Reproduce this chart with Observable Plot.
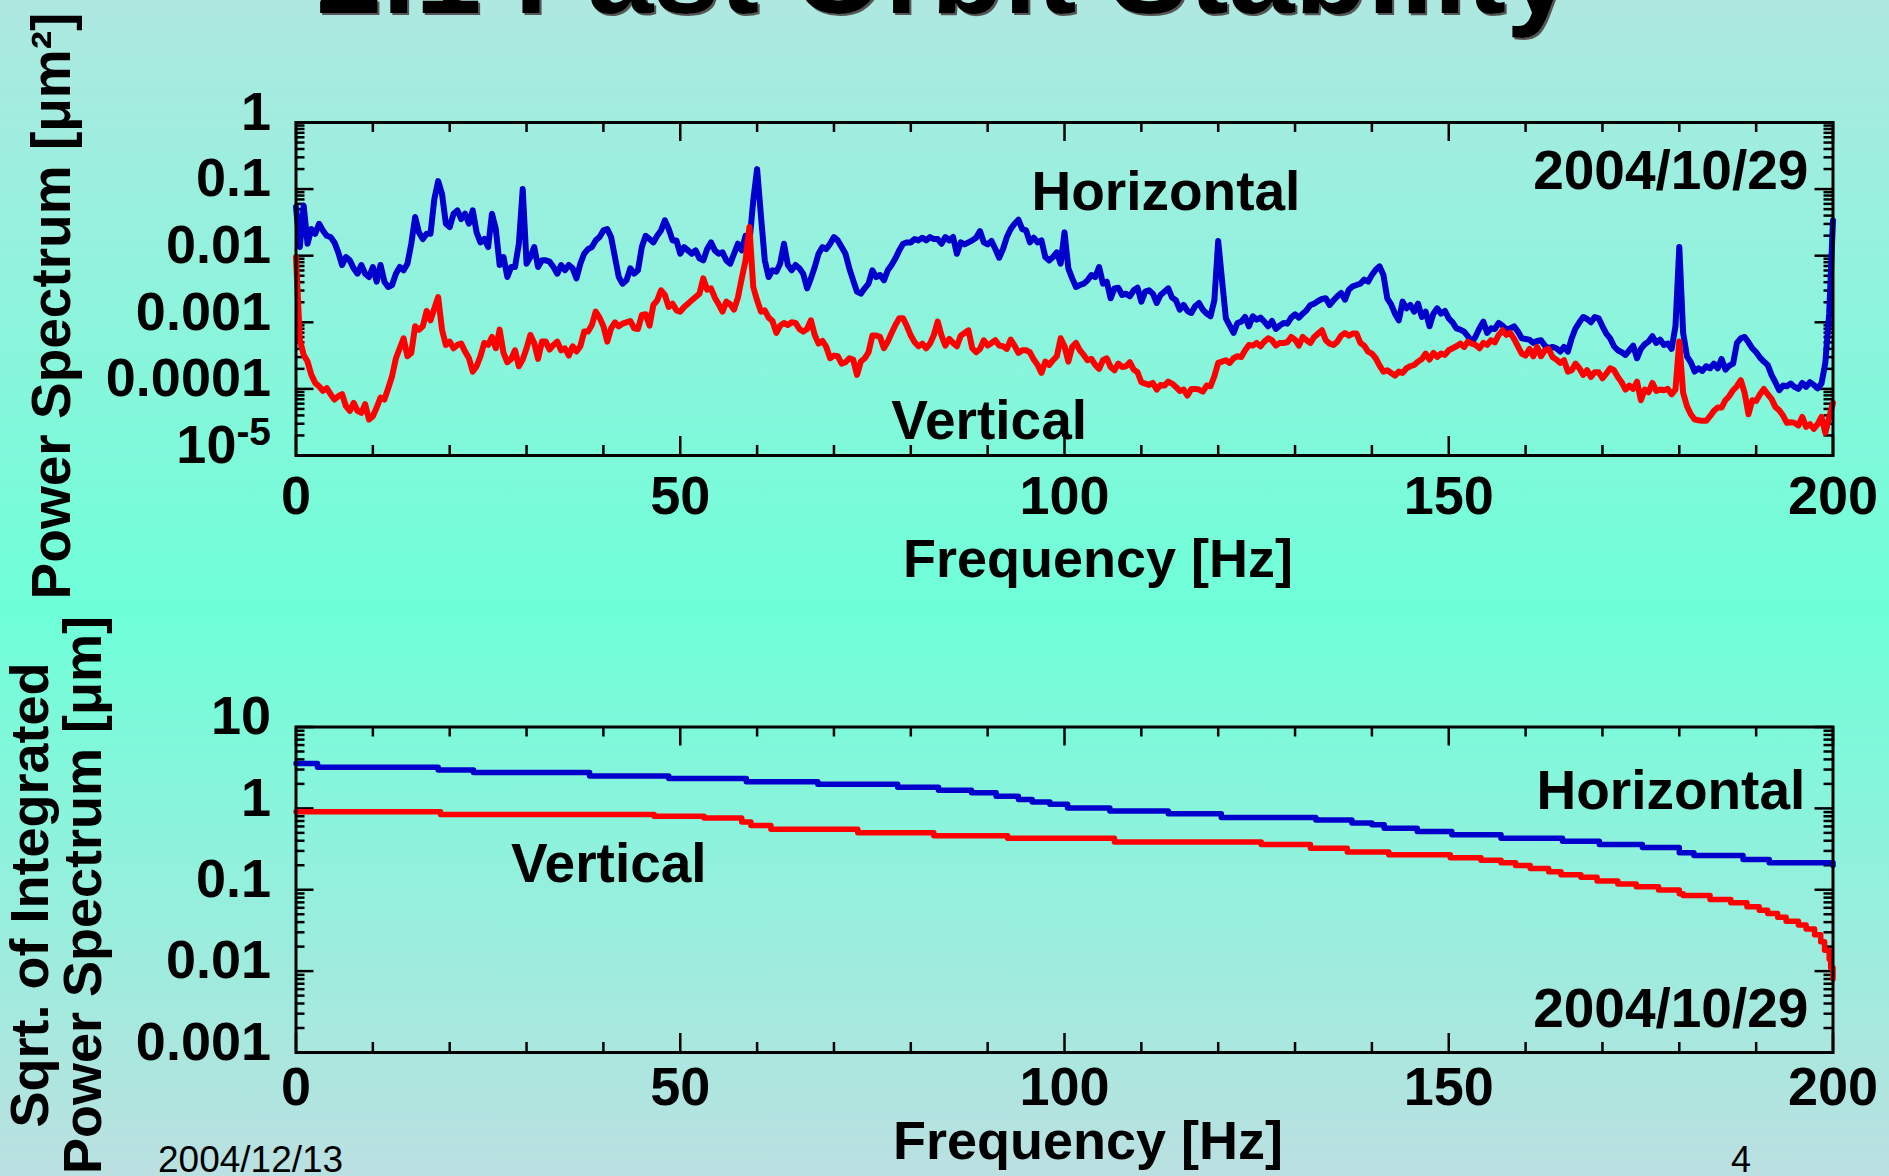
<!DOCTYPE html>
<html>
<head>
<meta charset="utf-8">
<title>Fast Orbit Stability</title>
<script src="https://cdn.jsdelivr.net/npm/d3@7"></script>
<script src="https://cdn.jsdelivr.net/npm/@observablehq/plot@0.6"></script>
<style>
  html, body { margin: 0; padding: 0; }
  body {
    width: 1889px; height: 1176px; overflow: hidden; position: relative;
    background: linear-gradient(to bottom, #aee8e1 0%, #6effd8 52%, #bbe0e1 100%);
    font-family: "Liberation Sans", Arial, Helvetica, sans-serif;
  }
  .panel { position: absolute; left: 0; }
  #overlay { position: absolute; left: 0; top: 0; }
</style>
</head>
<body>
<div id="panel1" class="panel" style="top:0px"></div>
<div id="panel2" class="panel" style="top:600px"></div>
<svg id="overlay" width="1889" height="1176" font-family="Liberation Sans, Arial, sans-serif">
  <defs>
    <filter id="shadow" x="-5%" y="-50%" width="110%" height="200%">
      <feDropShadow dx="2" dy="2" stdDeviation="0" flood-color="#555555" flood-opacity="1"/>
    </filter>
  </defs>
  <text x="316" y="13" font-size="119" font-weight="bold" fill="#000" filter="url(#shadow)">2.1 Fast Orbit Stability</text>
  <text x="158" y="1172" font-size="37" fill="#000">2004/12/13</text>
  <text x="1731" y="1172" font-size="36" fill="#000">4</text>
</svg>
<script>
// ---------------- DATA ----------------
// Power spectrum, log10 of value in µm², read every 0.5 Hz from 0 to 200 Hz (20 values per 10 Hz row)
const horizontalLog10 = [
  -1.27,-1.87,-1.25,-1.82,-1.60,-1.67,-1.52,-1.62,-1.70,-1.72,-1.80,-1.95,-2.14,-2.02,-2.07,-2.19,-2.27,-2.14,-2.27,-2.32,
  -2.17,-2.39,-2.14,-2.39,-2.47,-2.44,-2.27,-2.17,-2.22,-2.12,-1.82,-1.42,-1.65,-1.75,-1.67,-1.67,-1.15,-0.88,-1.07,-1.52,
  -1.57,-1.37,-1.32,-1.45,-1.37,-1.52,-1.32,-1.65,-1.80,-1.75,-1.87,-1.37,-1.60,-2.14,-2.02,-2.32,-2.17,-2.17,-1.82,-1.00,
  -2.12,-2.02,-1.87,-2.17,-2.07,-2.07,-2.09,-2.17,-2.27,-2.14,-2.22,-2.14,-2.19,-2.34,-2.12,-1.97,-1.90,-1.87,-1.77,-1.72,
  -1.62,-1.60,-1.72,-2.02,-2.32,-2.42,-2.37,-2.19,-2.27,-2.22,-1.87,-1.70,-1.75,-1.80,-1.70,-1.62,-1.47,-1.60,-1.77,-1.77,
  -1.97,-1.87,-1.92,-1.97,-1.92,-2.04,-2.07,-1.90,-1.80,-1.92,-1.97,-1.95,-2.07,-2.12,-1.97,-1.82,-1.92,-1.70,-1.80,-1.17,
  -0.70,-1.40,-2.07,-2.32,-2.22,-2.24,-2.12,-1.82,-2.14,-2.22,-2.14,-2.19,-2.27,-2.49,-2.34,-2.17,-1.97,-1.87,-1.90,-1.82,
  -1.72,-1.77,-1.87,-1.97,-2.19,-2.37,-2.54,-2.57,-2.49,-2.42,-2.22,-2.32,-2.29,-2.37,-2.22,-2.14,-2.04,-1.92,-1.82,-1.80,
  -1.80,-1.75,-1.77,-1.73,-1.77,-1.72,-1.75,-1.75,-1.82,-1.72,-1.77,-1.72,-1.97,-1.80,-1.83,-1.80,-1.77,-1.73,-1.63,-1.80,
  -1.83,-1.78,-1.90,-2.03,-1.90,-1.72,-1.60,-1.52,-1.46,-1.60,-1.62,-1.80,-1.73,-1.80,-1.77,-2.02,-2.07,-2.02,-1.95,-2.12,
  -1.65,-2.19,-2.34,-2.47,-2.44,-2.42,-2.37,-2.29,-2.32,-2.17,-2.42,-2.39,-2.64,-2.49,-2.48,-2.59,-2.57,-2.61,-2.52,-2.48,
  -2.69,-2.54,-2.52,-2.57,-2.71,-2.59,-2.54,-2.49,-2.63,-2.67,-2.81,-2.74,-2.83,-2.86,-2.76,-2.71,-2.81,-2.87,-2.91,-2.67,
  -1.78,-2.37,-2.94,-3.05,-3.16,-3.01,-2.99,-2.92,-3.06,-2.91,-2.96,-2.93,-2.99,-3.06,-2.98,-3.10,-3.05,-3.01,-3.02,-2.93,
  -2.88,-2.93,-2.87,-2.82,-2.74,-2.72,-2.68,-2.65,-2.64,-2.74,-2.67,-2.61,-2.56,-2.66,-2.51,-2.46,-2.44,-2.42,-2.36,-2.39,
  -2.29,-2.21,-2.16,-2.29,-2.64,-2.73,-2.87,-2.97,-2.69,-2.79,-2.74,-2.84,-2.72,-2.92,-2.84,-3.06,-2.87,-2.79,-2.87,-2.83,
  -2.94,-3.00,-3.09,-3.11,-3.14,-3.21,-3.30,-3.21,-3.09,-2.99,-3.16,-3.09,-3.10,-3.01,-3.05,-3.11,-3.09,-3.06,-3.14,-3.24,
  -3.25,-3.26,-3.31,-3.28,-3.27,-3.35,-3.39,-3.37,-3.39,-3.44,-3.37,-3.44,-3.24,-3.09,-3.00,-2.92,-2.95,-3.00,-2.92,-2.94,
  -3.06,-3.17,-3.24,-3.36,-3.42,-3.45,-3.49,-3.42,-3.35,-3.54,-3.40,-3.33,-3.29,-3.21,-3.31,-3.26,-3.34,-3.32,-3.40,-3.06,
  -1.87,-3.16,-3.51,-3.60,-3.74,-3.69,-3.73,-3.66,-3.69,-3.62,-3.69,-3.55,-3.71,-3.65,-3.62,-3.31,-3.24,-3.22,-3.30,-3.39,
  -3.45,-3.53,-3.59,-3.64,-3.79,-3.90,-4.02,-3.95,-3.96,-3.92,-3.97,-4.00,-3.91,-3.97,-3.90,-3.94,-3.99,-3.92,-3.61,-2.87,
  -1.47
];
const verticalLog10 = [
  -2.02,-3.26,-3.49,-3.59,-3.79,-3.91,-3.96,-4.03,-3.99,-4.08,-4.16,-4.11,-4.08,-4.26,-4.33,-4.21,-4.33,-4.36,-4.23,-4.46,
  -4.41,-4.28,-4.13,-4.16,-3.99,-3.81,-3.54,-3.39,-3.24,-3.51,-3.46,-3.06,-3.11,-3.06,-2.83,-2.97,-2.79,-2.62,-3.11,-3.34,
  -3.29,-3.39,-3.34,-3.32,-3.44,-3.54,-3.74,-3.66,-3.51,-3.31,-3.34,-3.22,-3.39,-3.11,-3.46,-3.60,-3.55,-3.42,-3.66,-3.56,
  -3.39,-3.19,-3.31,-3.55,-3.29,-3.29,-3.41,-3.34,-3.29,-3.42,-3.39,-3.50,-3.36,-3.44,-3.36,-3.14,-3.14,-3.04,-2.84,-2.93,
  -3.06,-3.29,-3.09,-3.00,-3.06,-3.02,-3.00,-2.98,-3.09,-3.10,-2.89,-2.88,-3.05,-2.74,-2.67,-2.52,-2.59,-2.77,-2.72,-2.82,
  -2.84,-2.77,-2.72,-2.67,-2.62,-2.57,-2.34,-2.51,-2.49,-2.63,-2.73,-2.84,-2.69,-2.73,-2.81,-2.63,-2.34,-2.07,-1.57,-2.47,
  -2.67,-2.84,-2.82,-2.93,-2.98,-3.16,-3.05,-3.01,-3.04,-3.00,-3.01,-3.10,-3.14,-3.10,-2.97,-3.19,-3.32,-3.28,-3.37,-3.54,
  -3.50,-3.51,-3.62,-3.60,-3.54,-3.56,-3.79,-3.59,-3.54,-3.45,-3.20,-3.20,-3.22,-3.39,-3.29,-3.16,-3.04,-2.94,-2.94,-3.06,
  -3.20,-3.30,-3.36,-3.32,-3.39,-3.32,-3.19,-2.99,-3.20,-3.35,-3.25,-3.31,-3.36,-3.20,-3.16,-3.12,-3.39,-3.45,-3.40,-3.27,
  -3.35,-3.31,-3.27,-3.35,-3.36,-3.40,-3.26,-3.35,-3.46,-3.42,-3.42,-3.45,-3.56,-3.64,-3.76,-3.59,-3.64,-3.57,-3.51,-3.24,
  -3.36,-3.59,-3.37,-3.31,-3.42,-3.49,-3.57,-3.55,-3.64,-3.70,-3.57,-3.54,-3.67,-3.72,-3.62,-3.67,-3.66,-3.60,-3.71,-3.75,
  -3.90,-3.92,-3.94,-3.91,-4.01,-3.94,-3.95,-3.89,-3.92,-3.97,-4.03,-4.01,-4.10,-4.00,-4.00,-4.01,-4.04,-3.95,-3.96,-3.81,
  -3.61,-3.59,-3.57,-3.61,-3.54,-3.51,-3.52,-3.42,-3.34,-3.35,-3.31,-3.36,-3.29,-3.24,-3.27,-3.35,-3.31,-3.31,-3.30,-3.22,
  -3.26,-3.35,-3.22,-3.27,-3.31,-3.22,-3.17,-3.12,-3.27,-3.32,-3.34,-3.29,-3.20,-3.16,-3.20,-3.17,-3.17,-3.31,-3.35,-3.44,
  -3.47,-3.54,-3.65,-3.74,-3.72,-3.76,-3.80,-3.74,-3.76,-3.69,-3.66,-3.64,-3.59,-3.55,-3.47,-3.56,-3.46,-3.52,-3.47,-3.49,
  -3.42,-3.39,-3.36,-3.32,-3.37,-3.29,-3.32,-3.34,-3.39,-3.31,-3.34,-3.27,-3.30,-3.19,-3.12,-3.19,-3.16,-3.25,-3.36,-3.47,
  -3.50,-3.40,-3.51,-3.37,-3.51,-3.42,-3.40,-3.52,-3.56,-3.61,-3.57,-3.74,-3.72,-3.62,-3.69,-3.79,-3.72,-3.82,-3.75,-3.75,
  -3.84,-3.77,-3.69,-3.72,-3.82,-3.90,-4.01,-3.95,-4.00,-3.89,-4.17,-4.01,-4.05,-3.91,-4.03,-4.01,-4.02,-4.00,-4.08,-4.01,
  -3.29,-4.06,-4.26,-4.38,-4.46,-4.47,-4.48,-4.48,-4.41,-4.33,-4.28,-4.28,-4.17,-4.11,-4.02,-3.96,-3.87,-4.06,-4.38,-4.17,
  -4.18,-4.08,-4.00,-4.08,-4.15,-4.27,-4.32,-4.40,-4.51,-4.50,-4.51,-4.55,-4.42,-4.57,-4.53,-4.60,-4.53,-4.42,-4.66,-4.43,
  -4.21
];
const spectrumStepHz = 0.5;

// Sqrt. of integrated power spectrum [µm]: step start frequency and level
const integHorizFreq = [0, 2.8, 18.5, 23.1, 38.2, 48.5, 58.6, 67.9, 78.3, 83.6, 87.9, 91.1, 94.0, 95.8, 98.1, 100.4, 105.9, 113.5, 120.4, 132.7, 137.4, 140.0, 141.6, 145.9, 150.4, 156.8, 164.8, 169.6, 175.2, 180.0, 181.9, 188.3, 191.7, 200];
const integHorizVal  = [3.56, 3.21, 2.96, 2.75, 2.50, 2.33, 2.12, 1.98, 1.82, 1.67, 1.56, 1.41, 1.29, 1.20, 1.12, 1.01, 0.93, 0.86, 0.77, 0.72, 0.66, 0.63, 0.57, 0.52, 0.475, 0.43, 0.395, 0.36, 0.33, 0.284, 0.264, 0.236, 0.215, 0.198];
const integVertFreq = [0, 18.8, 46.6, 53.1, 58.0, 59.2, 61.8, 73.1, 83.0, 92.6, 106.5, 125.6, 132.0, 136.8, 142.2, 150.2, 154.2, 156.8, 158.7, 160.6, 163.0, 164.6, 167.2, 169.3, 172.0, 174.4, 177.3, 180.0, 180.5, 184.0, 186.7, 188.8, 190.4, 191.5, 192.8, 193.9, 195.5, 196.5, 197.6, 198.4, 198.9, 199.5, 199.7, 200];
const integVertVal  = [0.91, 0.84, 0.80, 0.76, 0.68, 0.615, 0.555, 0.50, 0.46, 0.43, 0.387, 0.36, 0.324, 0.292, 0.269, 0.248, 0.231, 0.215, 0.198, 0.182, 0.166, 0.153, 0.142, 0.128, 0.118, 0.109, 0.099, 0.089, 0.085, 0.076, 0.069, 0.062, 0.056, 0.051, 0.046, 0.041, 0.037, 0.033, 0.028, 0.023, 0.018, 0.014, 0.011, 0.008];

// Axis ticks and labels
const xTickValues = [0, 50, 100, 150, 200];
const xMinorValues = [10, 20, 30, 40, 60, 70, 80, 90, 110, 120, 130, 140, 160, 170, 180, 190];
const topYTickValues = [1e-5, 1e-4, 1e-3, 1e-2, 1e-1, 1];
const topYTickLabels = ["10^-5", "0.0001", "0.001", "0.01", "0.1", "1"];
const botYTickValues = [1e-3, 1e-2, 1e-1, 1, 10];
const botYTickLabels = ["0.001", "0.01", "0.1", "1", "10"];

// Annotations (centred labels, and right-aligned date labels)
const topNotes = [
  {f: 113.2, v: 0.0489, t: "Horizontal"},
  {f: 90.2, v: 1.78e-5, t: "Vertical"}
];
const topDate = [{f: 196.8, v: 0.101, t: "2004/10/29"}];
const botNotes = [
  {f: 178.9, v: 0.975, t: "Horizontal"},
  {f: 40.7, v: 0.126, t: "Vertical"}
];
const botDate = [{f: 196.8, v: 0.00207, t: "2004/10/29"}];

const BLUE = "#0000cc", RED = "#ff0000";

// --------------- BUILD ---------------
const specH = horizontalLog10.map((e, i) => ({f: i * spectrumStepHz, v: 10 ** e}));
const specV = verticalLog10.map((e, i) => ({f: i * spectrumStepHz, v: 10 ** e}));
const intH = integHorizFreq.map((f, i) => ({f, v: integHorizVal[i]}));
const intV = integVertFreq.map((f, i) => ({f, v: integVertVal[i]}));

function minorLog(decades) {
  const out = [];
  for (let i = 0; i < decades.length - 1; i++) for (let k = 2; k <= 9; k++) out.push(decades[i] * k);
  return out;
}

const FL = 295.5, FR = 1832.5, W = 1889;
const innerW = FR - FL;

function ticks(yMajor, yMinor, innerH) {
  const s = {stroke: "black", strokeWidth: 2.5};
  return [
    Plot.ruleX(xTickValues, {...s, insetTop: innerH - 19}),
    Plot.ruleX(xTickValues, {...s, insetBottom: innerH - 19}),
    Plot.ruleX(xMinorValues, {...s, insetTop: innerH - 10}),
    Plot.ruleX(xMinorValues, {...s, insetBottom: innerH - 10}),
    Plot.ruleY(yMajor, {...s, insetRight: innerW - 18}),
    Plot.ruleY(yMajor, {...s, insetLeft: innerW - 18}),
    Plot.ruleY(yMinor, {...s, insetRight: innerW - 9}),
    Plot.ruleY(yMinor, {...s, insetLeft: innerW - 9})
  ];
}

const baseStyle = {
  background: "transparent",
  fontFamily: "'Liberation Sans', Arial, Helvetica, sans-serif",
  fontSize: "54px",
  fontWeight: "bold",
  color: "black",
  overflow: "visible"
};

// Panel 1: power spectrum
const p1Top = 122, p1Bottom = 455, H1 = 600;
const p1 = Plot.plot({
  width: W, height: H1,
  marginLeft: FL, marginRight: W - FR, marginTop: p1Top, marginBottom: H1 - p1Bottom,
  x: {type: "linear", domain: [0, 200]},
  y: {type: "log", domain: [1e-5, 1]},
  style: baseStyle,
  marks: [
    ...ticks(topYTickValues, minorLog(topYTickValues), p1Bottom - p1Top),
    Plot.line(specH, {x: "f", y: "v", stroke: BLUE, strokeWidth: 6}),
    Plot.line(specV, {x: "f", y: "v", stroke: RED, strokeWidth: 6}),
    Plot.frame({stroke: "black", strokeWidth: 3}),
    Plot.axisX({ticks: xTickValues, tickSize: 0, tickPadding: 20, tickFormat: d => String(d), label: null}),
    Plot.axisY({ticks: topYTickValues, tickSize: 0, tickPadding: 25, dy: -10,
      tickFormat: d => topYTickLabels[topYTickValues.indexOf(d)], label: null}),
    Plot.text(topNotes, {x: "f", y: "v", text: "t", textAnchor: "middle", lineAnchor: "bottom", fontSize: 55}),
    Plot.text(topDate, {x: "f", y: "v", text: "t", textAnchor: "end", lineAnchor: "bottom", fontSize: 55}),
    Plot.text(["Frequency [Hz]"], {frameAnchor: "bottom", text: d => d, textAnchor: "middle", dx: 33.5, dy: 121.5, lineAnchor: "bottom", fontSize: 54}),
    Plot.text(["Power Spectrum [\u03bcm\u00b2]"], {frameAnchor: "left", text: d => d, textAnchor: "middle", rotate: -90, dx: 69 - FL, dy: 17, lineAnchor: "bottom", fontSize: 55})
  ]
});

// Panel 2: sqrt of integrated power spectrum
const p2Top = 126.5, p2Bottom = 452, H2 = 576;
const p2 = Plot.plot({
  width: W, height: H2,
  marginLeft: FL, marginRight: W - FR, marginTop: p2Top, marginBottom: H2 - p2Bottom,
  x: {type: "linear", domain: [0, 200]},
  y: {type: "log", domain: [1e-3, 10]},
  style: baseStyle,
  marks: [
    ...ticks(botYTickValues, minorLog(botYTickValues), p2Bottom - p2Top),
    Plot.line(intH, {x: "f", y: "v", stroke: BLUE, strokeWidth: 5.5, curve: "step-after"}),
    Plot.line(intV, {x: "f", y: "v", stroke: RED, strokeWidth: 5.5, curve: "step-after"}),
    Plot.frame({stroke: "black", strokeWidth: 3}),
    Plot.axisX({ticks: xTickValues, tickSize: 0, tickPadding: 14, tickFormat: d => String(d), label: null}),
    Plot.axisY({ticks: botYTickValues, tickSize: 0, tickPadding: 25, dy: -10,
      tickFormat: d => botYTickLabels[botYTickValues.indexOf(d)], label: null}),
    Plot.text(botNotes, {x: "f", y: "v", text: "t", textAnchor: "middle", lineAnchor: "bottom", fontSize: 55}),
    Plot.text(botDate, {x: "f", y: "v", text: "t", textAnchor: "end", lineAnchor: "bottom", fontSize: 55}),
    Plot.text(["Frequency [Hz]"], {frameAnchor: "bottom", text: d => d, textAnchor: "middle", dx: 23.5, dy: 106, lineAnchor: "bottom", fontSize: 54}),
    Plot.text(["Sqrt. of Integrated\nPower Spectrum [\u03bcm]"], {frameAnchor: "left", text: d => d, textAnchor: "middle", rotate: -90, dx: 100.5 - FL, dy: 5.25, lineAnchor: "bottom", lineHeight: 0.98, fontSize: 54})
  ]
});

document.getElementById("panel1").appendChild(p1);
document.getElementById("panel2").appendChild(p2);

// superscript for 10^-5 tick label
p1.querySelectorAll("text").forEach(t => {
  if (t.textContent === "10^-5") {
    t.textContent = "10";
    const sup = document.createElementNS("http://www.w3.org/2000/svg", "tspan");
    sup.setAttribute("dy", "-0.45em");
    sup.setAttribute("font-size", "0.72em");
    sup.textContent = "-5";
    t.appendChild(sup);
  }
});
</script>
</body>
</html>
